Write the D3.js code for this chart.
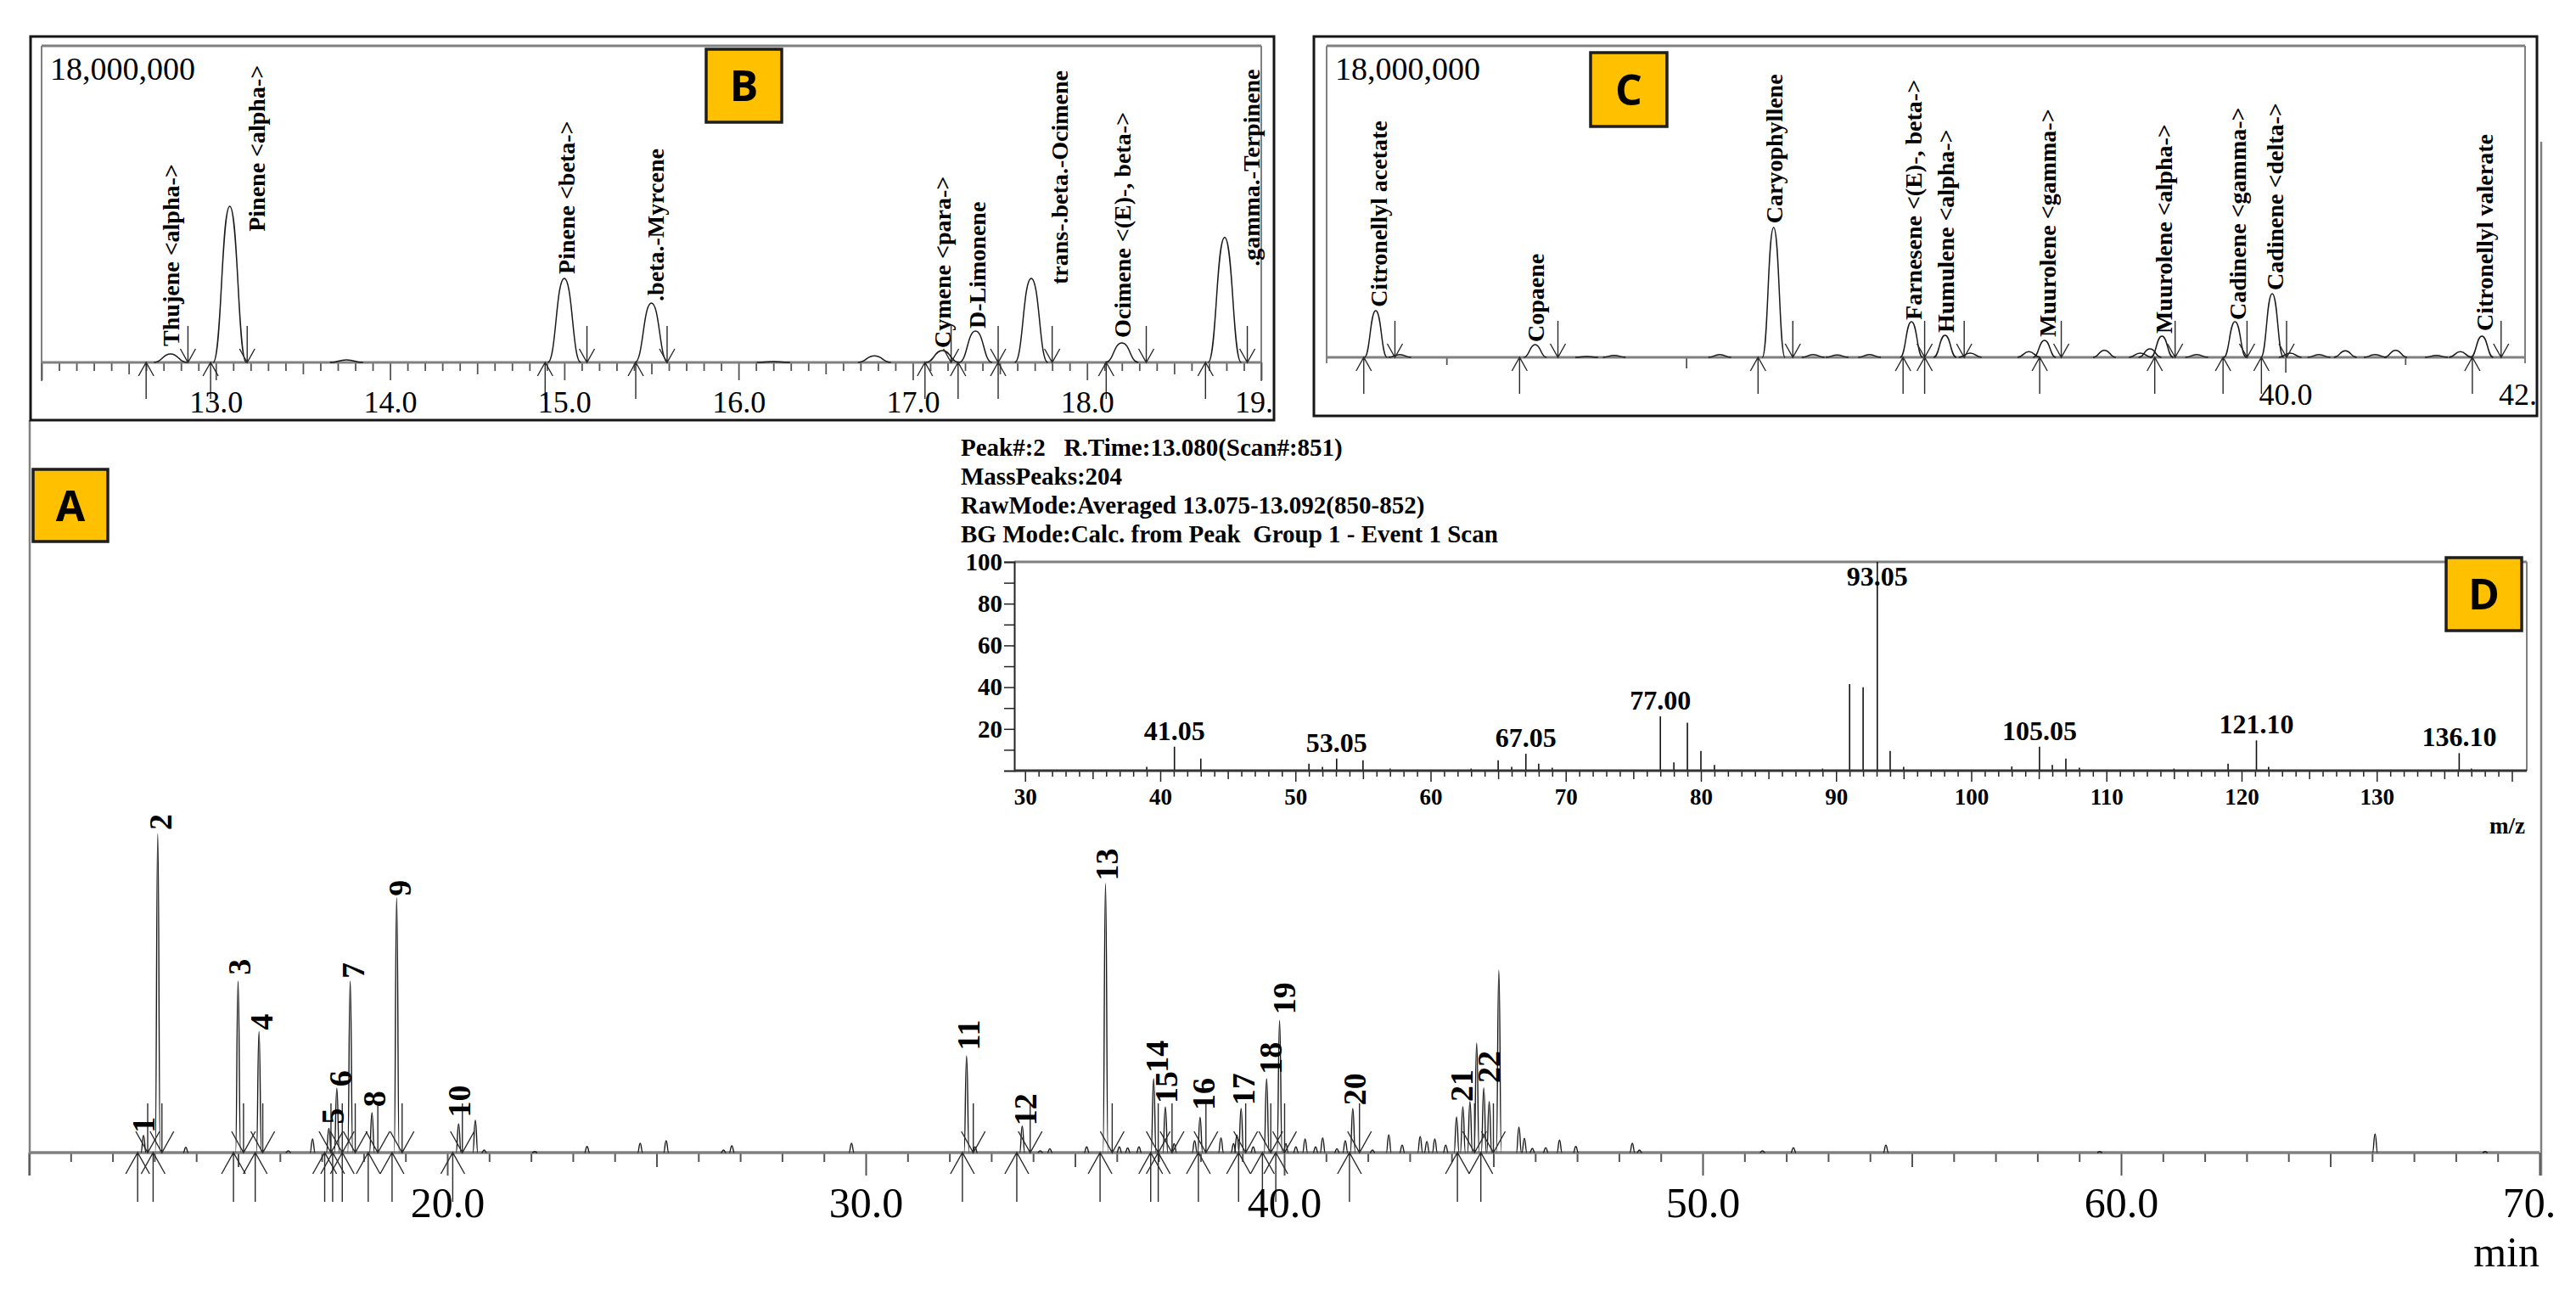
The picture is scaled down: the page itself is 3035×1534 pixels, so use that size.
<!DOCTYPE html>
<html>
<head>
<meta charset="utf-8">
<script src="https://cdn.jsdelivr.net/npm/d3@7"></script>
<style>
  body { margin: 0; background: #fff; }
  svg { display: block; }
  text { font-family: "Liberation Serif", "Times New Roman", serif; fill: #000; }
</style>
</head>
<body>
<div id="chart"></div>
<script>
// ---- chromatogram peaks: retention time (min) and height (x 1,000,000 counts)
const peakTimes = [12.74, 13.08, 13.75, 15.00, 15.50, 16.20, 16.78, 17.17, 17.36, 17.68, 18.20, 18.79,
  20.27, 20.67, 20.88, 22.09, 23.34, 24.61, 25.23, 26.60, 26.80, 29.66,
  32.41, 32.61, 33.74, 34.17, 34.40, 35.28, 35.73, 36.06, 36.26, 36.53, 36.88, 37.16, 37.37, 37.86,
  37.99, 38.49, 38.79, 38.87, 38.97, 39.26, 39.58, 39.89, 40.04, 40.28, 40.50, 40.75, 40.92, 41.26,
  41.46, 41.64, 42.11, 42.50, 42.82, 43.25, 43.41, 43.60, 43.86, 44.12, 44.27, 44.44, 44.60, 44.77,
  44.90, 45.13, 45.61, 45.74, 45.93, 46.25, 46.58, 46.97, 48.32, 48.49, 51.43, 52.17, 54.38, 59.49,
  66.07, 68.70];
const peakHeights = [0.48, 8.88, 0.15, 4.78, 3.38, 0.05, 0.38, 0.68, 1.79, 4.78, 1.11, 7.10,
  0.80, 0.90, 0.07, 0.03, 0.17, 0.26, 0.33, 0.07, 0.19, 0.26,
  2.70, 0.16, 0.74, 0.05, 0.11, 0.16, 7.50, 0.16, 0.13, 0.16, 2.06, 1.27, 0.25, 0.33,
  0.98, 0.41, 0.25, 0.49, 1.23, 0.16, 2.06, 3.68, 0.25, 0.16, 0.38, 0.16, 0.41, 0.11,
  0.33, 1.23, 0.07, 0.50, 0.21, 0.45, 0.31, 0.38, 0.21, 0.99, 1.28, 1.42, 3.05, 1.80,
  1.42, 5.08, 0.71, 0.40, 0.12, 0.14, 0.35, 0.17, 0.26, 0.07, 0.05, 0.14, 0.21, 0.03,
  0.52, 0.03];

// integration marks (peak start / peak end), min
const startMarks = [12.60, 12.97, 14.89, 15.41, 17.07, 17.26, 17.49, 18.11, 18.68, 20.13,
  32.31, 33.61, 35.60, 36.81, 36.99, 37.95, 38.91, 39.48, 39.80, 41.56, 44.14, 44.70];
const endMarks = [12.84, 13.18, 15.13, 15.59, 17.22, 17.49, 17.80, 18.34, 18.92, 20.36,
  32.57, 33.93, 35.89, 36.99, 37.32, 38.13, 39.08, 39.68, 40.01, 41.80, 44.55, 45.00];

// peak numbers of the full chromatogram (A)
const peakNumbers = ["1", "2", "3", "4", "5", "6", "7", "8", "9", "10", "11",
  "12", "13", "14", "15", "16", "17", "18", "19", "20", "21", "22"];
const numberTimes = [12.72, 13.13, 15.01, 15.55, 17.24, 17.44, 17.74, 18.25, 18.85, 20.27, 32.45,
  33.80, 35.74, 36.94, 37.16, 38.06, 39.01, 39.66, 39.98, 41.66, 44.22, 44.87];
const numberHeights = [0.55, 8.99, 4.95, 3.42, 0.79, 1.84, 4.85, 1.27, 7.15, 0.98, 2.85,
  0.75, 7.58, 2.23, 1.37, 1.18, 1.32, 2.18, 3.85, 1.32, 1.42, 1.94];

// compound names in inset B (12 - 19 min)
const namesB = ["Thujene <alpha->", "Pinene <alpha->", "Pinene <beta->", ".beta.-Myrcene",
  "Cymene <para->", "D-Limonene", "trans-.beta.-Ocimene", "Ocimene <(E)-, beta->", ".gamma.-Terpinene"];
const nameTimesB = [12.74, 13.23, 15.01, 15.52, 17.17, 17.37, 17.84, 18.20, 18.94];
const nameHeightsB = [0.92, 7.44, 5.02, 3.48, 0.82, 1.93, 4.44, 1.40, 5.46];

// compound names in inset C (32 - 42 min)
const namesC = ["Citronellyl acetate", "Copaene", "Caryophyllene", "Farnesene <(E)-, beta->",
  "Humulene <alpha->", "Muurolene <gamma->", "Muurolene <alpha->", "Cadinene <gamma->",
  "Cadinene <delta->", "Citronellyl valerate"];
const nameTimesC = [32.43, 33.74, 35.73, 36.89, 37.16, 38.01, 38.98, 39.60, 39.91, 41.66];
const nameHeightsC = [2.90, 0.88, 7.74, 2.16, 1.42, 1.18, 1.37, 2.16, 3.87, 1.52];

// tick labels
const tickLabelsA = [20, 30, 40, 50, 60, 70];
const tickLabelsB = [13, 14, 15, 16, 17, 18, 19];
const tickLabelsC = [40, 42];
const tickMarksC = [33, 35, 40, 41];

// mass spectrum of peak 2 (D)
const ionMz = [39, 41.05, 43, 51, 52, 53.05, 55, 57, 63, 65, 66, 67.05, 68, 69, 77.00, 78, 79, 80, 81, 89,
  91, 92, 93.05, 94, 95, 103, 105.05, 106, 107, 108, 115, 119, 121.10, 122, 136.10, 137];
const ionAbundance = [1.8, 11.5, 5.8, 3.4, 1.8, 5.8, 5.0, 1.0, 1.0, 5.0, 1.8, 8.1, 3.4, 1.4, 26, 4.0, 23, 9.5, 2.7, 1.0,
  41.5, 39.9, 100, 9.5, 1.8, 2.0, 11.5, 2.7, 5.8, 1.4, 1.0, 3.4, 14.5, 1.8, 8.4, 1.0];
const labelledIons = [41.05, 53.05, 67.05, 77.00, 93.05, 105.05, 121.10, 136.10];
const headerLines = ["Peak#:2   R.Time:13.080(Scan#:851)", "MassPeaks:204",
  "RawMode:Averaged 13.075-13.092(850-852)", "BG Mode:Calc. from Peak  Group 1 - Event 1 Scan"];
const mzTicks = [30, 40, 50, 60, 70, 80, 90, 100, 110, 120, 130];
const abundanceTicks = [20, 40, 60, 80, 100];

const W = 3035, H = 1534;
const fullScale = 18;       // x 1,000,000
const axisGrey = "#808080";

const svg = d3.select("#chart").append("svg")
    .attr("width", W)
    .attr("height", H);
svg.append("rect").attr("width", W).attr("height", H).attr("fill", "#fff");
const defs = svg.append("defs");

function clip(id, x, y, w, h) {
    defs.append("clipPath").attr("id", id)
        .append("rect").attr("x", x).attr("y", y).attr("width", w).attr("height", h);
    return `url(#${id})`;
}

// peak traces drawn from the peak table
function drawTrace(g, x, y, clipUrl, halfWidth, strokeWidth) {
    const [t0, t1] = x.domain();
    const line = d3.line()
        .x(d => x(d[0]))
        .y(d => y(d[1]))
        .curve(d3.curveBumpX);
    const idx = d3.range(peakTimes.length)
        .filter(i => peakTimes[i] > t0 - 0.3 && peakTimes[i] < t1 + 0.3);
    g.append("g")
        .attr("clip-path", clipUrl)
        .selectAll("path")
        .data(idx)
        .join("path")
        .attr("d", i => line([[peakTimes[i] - halfWidth, 0], [peakTimes[i], peakHeights[i]], [peakTimes[i] + halfWidth, 0]]))
        .attr("fill", "none")
        .attr("stroke", "#1a1a1a")
        .attr("stroke-width", strokeWidth);
}

// start (up) and end (down) arrows on the baseline
function drawMarks(g, x, y0, m) {
    const [t0, t1] = x.domain();
    const inside = t => t >= t0 && t <= t1;
    const grp = g.append("g")
        .attr("fill", "none")
        .attr("stroke", "#2a2a2a")
        .attr("stroke-width", 1.4);
    grp.selectAll(".up")
        .data(startMarks.filter(inside))
        .join("path")
        .attr("class", "up")
        .attr("d", t => {
            const px = x(t);
            return `M${px},${y0 + m.shaft}V${y0}M${px - m.half},${y0 + m.head}L${px},${y0}L${px + m.half},${y0 + m.head}`;
        });
    grp.selectAll(".down")
        .data(endMarks.filter(inside))
        .join("path")
        .attr("class", "down")
        .attr("d", t => {
            const px = x(t);
            return `M${px},${y0 - m.shaft}V${y0}M${px - m.half},${y0 - m.head}L${px},${y0}L${px + m.half},${y0 - m.head}`;
        });
}

// vertical peak labels, reading upward from their anchor
function drawNames(g, x, y, names, times, heights, size) {
    g.append("g")
        .selectAll("text")
        .data(names)
        .join("text")
        .attr("transform", (d, i) => `translate(${x(times[i])},${y(heights[i])}) rotate(-90)`)
        .attr("dy", "0.36em")
        .attr("font-weight", "bold")
        .attr("font-size", size)
        .text(d => d);
}

// tick marks of one length class
function tickRow(g, x, y0, values, len, color, width) {
    g.append("g")
        .attr("transform", `translate(0,${y0})`)
        .call(d3.axisBottom(x).tickValues(values).tickSize(len).tickFormat(""))
        .call(a => a.select(".domain").remove())
        .call(a => a.selectAll("line").attr("stroke", color).attr("stroke-width", width));
}

function tickText(g, x, y0, values, fmt, size, pad, weight) {
    g.append("g")
        .attr("transform", `translate(0,${y0})`)
        .call(d3.axisBottom(x).tickValues(values).tickSize(0).tickPadding(pad).tickFormat(fmt))
        .call(a => a.select(".domain").remove())
        .call(a => a.selectAll("text")
            .attr("font-family", "'Liberation Serif', 'Times New Roman', serif")
            .attr("font-size", size)
            .attr("font-weight", weight)
            .attr("fill", "#000"));
}

function tagBox(x, y, w, h, letter) {
    const g = svg.append("g");
    g.append("rect")
        .attr("x", x).attr("y", y).attr("width", w).attr("height", h)
        .attr("fill", "#FFC000")
        .attr("stroke", "#1e1e1e")
        .attr("stroke-width", 3.5);
    g.append("text")
        .attr("x", x + w / 2)
        .attr("y", y + h / 2)
        .attr("dy", "0.36em")
        .attr("text-anchor", "middle")
        .style("font-family", "'Open Sans', 'Liberation Sans', sans-serif")
        .attr("font-weight", "bold")
        .attr("font-size", 50)
        .text(letter);
}

// ================= A: full chromatogram =================
const xA = d3.scaleLinear().domain([10, 70]).range([34, 2992]);
const yA = d3.scaleLinear().domain([0, fullScale]).range([1358, 597]);
const gA = svg.append("g");

gA.append("line").attr("x1", 35).attr("x2", 35).attr("y1", 495).attr("y2", 1385)
    .attr("stroke", axisGrey).attr("stroke-width", 2.5);
gA.append("line").attr("x1", 2994).attr("x2", 2994).attr("y1", 167).attr("y2", 1385)
    .attr("stroke", axisGrey).attr("stroke-width", 2.5);

const minutesA = d3.range(10, 71);
tickRow(gA, xA, yA(0), minutesA.filter(t => t % 5 !== 0), 11, "#555", 2);
tickRow(gA, xA, yA(0), minutesA.filter(t => t % 5 === 0 && t % 10 !== 0), 17, "#555", 2);
tickRow(gA, xA, yA(0), minutesA.filter(t => t % 10 === 0), 27, "#555", 2);
gA.append("line").attr("x1", xA(10)).attr("x2", xA(70)).attr("y1", yA(0)).attr("y2", yA(0))
    .attr("stroke", axisGrey).attr("stroke-width", 3.5);

drawTrace(gA, xA, yA, null, 0.06, 1.4);
drawMarks(gA, xA, yA(0), {shaft: 58, head: 25, half: 14});
drawNames(gA, xA, yA, peakNumbers, numberTimes, numberHeights, 38);

const gAxisA = gA.append("g").attr("clip-path", clip("clipAxisA", 0, 1360, 3013, 174));
tickText(gAxisA, xA, yA(0), tickLabelsA, d3.format(".1f"), 50, 40, "normal");
gA.append("text")
    .attr("x", 2992).attr("y", 1492)
    .attr("text-anchor", "end")
    .attr("font-size", 50)
    .text("min");

// ================= inset chromatograms B and C =================
function inset(cfg) {
    const g = svg.append("g").attr("clip-path", clip(cfg.id + "Outer", cfg.box[0], cfg.box[1], cfg.box[2], cfg.box[3]));
    const x = d3.scaleLinear().domain(cfg.domain).range([cfg.left, cfg.right]);
    const y = d3.scaleLinear().domain([0, fullScale]).range([cfg.base, cfg.top]);

    g.append("rect")
        .attr("x", cfg.box[0]).attr("y", cfg.box[1]).attr("width", cfg.box[2]).attr("height", cfg.box[3])
        .attr("fill", "#fff");

    // inner frame
    g.append("line").attr("x1", cfg.left).attr("x2", cfg.right).attr("y1", cfg.top).attr("y2", cfg.top)
        .attr("stroke", axisGrey).attr("stroke-width", 3);
    g.append("line").attr("x1", cfg.left).attr("x2", cfg.left).attr("y1", cfg.top).attr("y2", cfg.base + cfg.sideDrop)
        .attr("stroke", axisGrey).attr("stroke-width", 2);
    g.append("line").attr("x1", cfg.right).attr("x2", cfg.right).attr("y1", cfg.top).attr("y2", cfg.base + cfg.sideDrop)
        .attr("stroke", axisGrey).attr("stroke-width", 2);

    cfg.ticks.forEach(t => tickRow(g, x, y(0), t.values, t.len, "#555", 1.8));
    g.append("line").attr("x1", cfg.left).attr("x2", cfg.right).attr("y1", y(0)).attr("y2", y(0))
        .attr("stroke", axisGrey).attr("stroke-width", 3);

    drawTrace(g, x, y, clip(cfg.id + "Inner", cfg.left, cfg.top, cfg.right - cfg.left, cfg.base - cfg.top + 1), 0.095, 1.5);
    drawMarks(g, x, y(0), {shaft: 43, head: 16, half: 9});
    drawNames(g, x, y, cfg.names, cfg.times, cfg.heights, 28);

    tickText(g, x, y(0), cfg.tickLabels, d3.format(".1f"), 36, cfg.labelPad, "normal");

    g.append("text")
        .attr("x", cfg.left + 10).attr("y", 94)
        .attr("font-size", 38)
        .text(d3.format(",")(fullScale * 1e6));

    svg.append("rect")
        .attr("x", cfg.box[0]).attr("y", cfg.box[1]).attr("width", cfg.box[2]).attr("height", cfg.box[3])
        .attr("fill", "none")
        .attr("stroke", "#161616")
        .attr("stroke-width", 3);
}

const tenthsB = d3.range(120, 191);
inset({
    id: "B", box: [36, 43, 1465, 452], domain: [12, 19],
    left: 49, right: 1486, top: 54, base: 427, sideDrop: 22,
    ticks: [
        {values: tenthsB.filter(k => k % 5 !== 0).map(k => k / 10), len: 10},
        {values: tenthsB.filter(k => k % 5 === 0 && k % 10 !== 0).map(k => k / 10), len: 14},
        {values: tenthsB.filter(k => k % 10 === 0).map(k => k / 10), len: 21}
    ],
    names: namesB, times: nameTimesB, heights: nameHeightsB,
    tickLabels: tickLabelsB, labelPad: 33
});
inset({
    id: "C", box: [1548, 43, 1441, 447], domain: [32, 42],
    left: 1563, right: 2975, top: 54, base: 421, sideDrop: 7,
    ticks: [
        {values: tickMarksC.filter(t => t % 5 !== 0), len: 9},
        {values: tickMarksC.filter(t => t % 5 === 0 && t % 10 !== 0), len: 13},
        {values: tickMarksC.filter(t => t % 10 === 0), len: 18}
    ],
    names: namesC, times: nameTimesC, heights: nameHeightsC,
    tickLabels: tickLabelsC, labelPad: 30
});

// ================= D: mass spectrum =================
const xD = d3.scaleLinear().domain([29.2, 141.1]).range([1195, 2977]);
const yD = d3.scaleLinear().domain([0, 100]).range([908, 662]);
const gD = svg.append("g");

gD.selectAll("text.hdr")
    .data(headerLines)
    .join("text")
    .attr("class", "hdr")
    .attr("x", 1132)
    .attr("y", (d, i) => 537 + i * 34)
    .attr("font-weight", "bold")
    .attr("font-size", 29)
    .style("white-space", "pre")
    .text(d => d);

gD.append("line").attr("x1", xD.range()[0]).attr("x2", xD.range()[1]).attr("y1", yD(100)).attr("y2", yD(100))
    .attr("stroke", axisGrey).attr("stroke-width", 3);
gD.append("line").attr("x1", xD.range()[1]).attr("x2", xD.range()[1]).attr("y1", yD(100)).attr("y2", yD(0))
    .attr("stroke", axisGrey).attr("stroke-width", 2);

const units = d3.range(30, 141);
tickRow(gD, xD, yD(0), units.filter(m => m % 5 !== 0), 7, "#222", 1.5);
tickRow(gD, xD, yD(0), units.filter(m => m % 5 === 0 && m % 10 !== 0), 10, "#222", 1.5);
tickRow(gD, xD, yD(0), units.filter(m => m % 10 === 0), 13, "#222", 1.5);
tickText(gD, xD, yD(0), mzTicks, d3.format("d"), 27, 21, "bold");

gD.append("g")
    .attr("transform", `translate(${xD.range()[0]},0)`)
    .call(d3.axisLeft(yD).tickValues(d3.range(10, 101, 10)).tickSize(12).tickFormat(""))
    .call(a => a.select(".domain").attr("stroke", "#222").attr("stroke-width", 2))
    .call(a => a.selectAll("line").attr("stroke", "#222").attr("stroke-width", 1.5));
gD.append("g")
    .attr("transform", `translate(${xD.range()[0]},0)`)
    .call(d3.axisLeft(yD).tickValues(abundanceTicks).tickSize(0).tickPadding(14).tickFormat(d3.format("d")))
    .call(a => a.select(".domain").remove())
    .call(a => a.selectAll("text")
        .attr("font-family", "'Liberation Serif', 'Times New Roman', serif")
        .attr("font-size", 29)
        .attr("font-weight", "bold")
        .attr("fill", "#000"));

gD.selectAll("line.ion")
    .data(ionMz)
    .join("line")
    .attr("class", "ion")
    .attr("x1", d => xD(d)).attr("x2", d => xD(d))
    .attr("y1", yD(0))
    .attr("y2", (d, i) => yD(ionAbundance[i]))
    .attr("stroke", "#111")
    .attr("stroke-width", 1.6);

gD.append("line").attr("x1", xD.range()[0]).attr("x2", xD.range()[1]).attr("y1", yD(0)).attr("y2", yD(0))
    .attr("stroke", "#333").attr("stroke-width", 3);

gD.selectAll("text.ionlab")
    .data(labelledIons)
    .join("text")
    .attr("class", "ionlab")
    .attr("x", d => xD(d))
    .attr("y", d => Math.max(yD(ionAbundance[ionMz.indexOf(d)]) - 8, yD(100) + 28))
    .attr("text-anchor", "middle")
    .attr("font-weight", "bold")
    .attr("font-size", 32)
    .text(d => d3.format(".2f")(d));

gD.append("text")
    .attr("x", xD.range()[1] - 2).attr("y", 982)
    .attr("text-anchor", "end")
    .attr("font-weight", "bold")
    .attr("font-size", 27)
    .text("m/z");

// ================= panel tags =================
tagBox(39, 553, 88, 85, "A");
tagBox(832, 58, 89, 86, "B");
tagBox(1874, 62, 90, 87, "C");
tagBox(2882, 657, 89, 86, "D");
</script>
</body>
</html>
